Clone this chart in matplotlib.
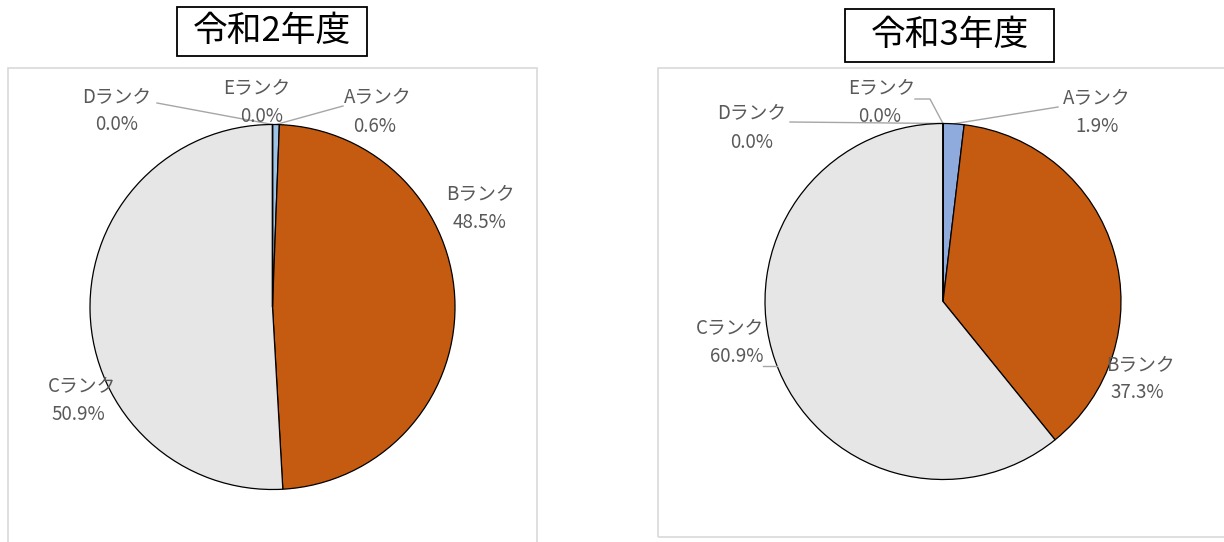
import numpy as np
import matplotlib.pyplot as plt
from matplotlib.patches import Rectangle

plt.rcParams['font.family'] = ['Noto Sans CJK JP', 'DejaVu Sans']

# data
ranks = ['Aランク', 'Bランク', 'Cランク', 'Dランク', 'Eランク']
r2_values = [0.6, 48.5, 50.9, 0.0, 0.0]
r3_values = [1.9, 37.3, 60.9, 0.0, 0.0]
titles = ['令和2年度', '令和3年度']

W, H = 1224, 542
fig = plt.figure(figsize=(W / 100, H / 100), dpi=100)
ax = fig.add_axes([0, 0, 1, 1])
ax.set_xlim(0, W)
ax.set_ylim(0, H)
ax.set_aspect('equal')
ax.axis('off')

label_color = '#595959'
line_color = '#A6A6A6'

# layout per chart (pixel units, y measured from top)
charts = [
    dict(values=r2_values, title=titles[0], center=(272.5, 307), radius=182.5,
         colors=['#9DC3E6', '#C55A11', '#E7E6E6', '#FFC000', '#5B9BD5'],
         frame=(8, 68, 537, 560), title_box=(177, 7, 367, 56),
         name_pos=[(378, 97), (480, 194), (82, 386), (117, 97), (257, 88)],
         pct_pos=[(375, 127), (480, 222), (78, 414), (117, 124), (262, 117)],
         leaders={0: [(343, 106)], 3: [(157, 103)]}),
    dict(values=r3_values, title=titles[1], center=(943, 301.5), radius=178,
         colors=['#8FAADC', '#C55A11', '#E7E6E6', '#FFC000', '#5B9BD5'],
         frame=(658, 68, 1230, 537), title_box=(845, 9, 1054, 62),
         name_pos=[(1097, 98), (1140, 365), (730, 328), (752, 113), (882, 88)],
         pct_pos=[(1097, 127), (1137, 393), (737, 356), (752, 142), (880, 117)],
         leaders={0: [(1058, 107)], 2: [(763, 366)], 3: [(790, 122)],
                  4: [(915, 99), (930, 99)]}),
]

for c in charts:
    x0, y0, x1, y1 = c['frame']
    ax.add_patch(Rectangle((x0, H - y1), x1 - x0, y1 - y0, fill=False,
                           edgecolor='#D9D9D9', linewidth=1.2))
    cx, cy = c['center']
    r = c['radius']
    wedges, _ = ax.pie(c['values'], colors=c['colors'], startangle=90,
                       counterclock=False, center=(cx, H - cy), radius=r,
                       wedgeprops=dict(edgecolor='black', linewidth=0.9))
    ax.set_xlim(0, W)
    ax.set_ylim(0, H)

    bx0, by0, bx1, by1 = c['title_box']
    ax.add_patch(Rectangle((bx0, H - by1), bx1 - bx0, by1 - by0,
                           facecolor='white', edgecolor='black', linewidth=1.3))
    ax.text((bx0 + bx1) / 2, H - (by0 + by1) / 2, c['title'], fontsize=25,
            ha='center', va='center')

    total = sum(c['values'])
    start = 90.0
    for i, (rank, val) in enumerate(zip(ranks, c['values'])):
        sweep = val / total * 360
        mid = np.deg2rad(start - sweep / 2)
        start -= sweep
        nx, ny = c['name_pos'][i]
        px, py = c['pct_pos'][i]
        ax.text(nx, H - ny, rank, fontsize=13.5, color=label_color,
                ha='center', va='center')
        ax.text(px, H - py, f'{val:.1f}%', fontsize=13.5, color=label_color,
                ha='center', va='center')
        if i in c['leaders']:
            pts = c['leaders'][i]
            if i == 2:
                # short horizontal leader to the left edge
                yy = pts[0][1]
                ex = cx - np.sqrt(r ** 2 - (yy - cy) ** 2)
                ax.plot([pts[0][0], ex], [H - yy, H - yy], color=line_color, lw=1)
                continue
            ex = cx + r * np.cos(mid)
            ey = cy - r * np.sin(mid)
            xs = [p[0] for p in pts] + [ex]
            ys = [H - p[1] for p in pts] + [H - ey]
            ax.plot(xs, ys, color=line_color, lw=1, zorder=0.5)

plt.savefig('out.png', dpi=100)
